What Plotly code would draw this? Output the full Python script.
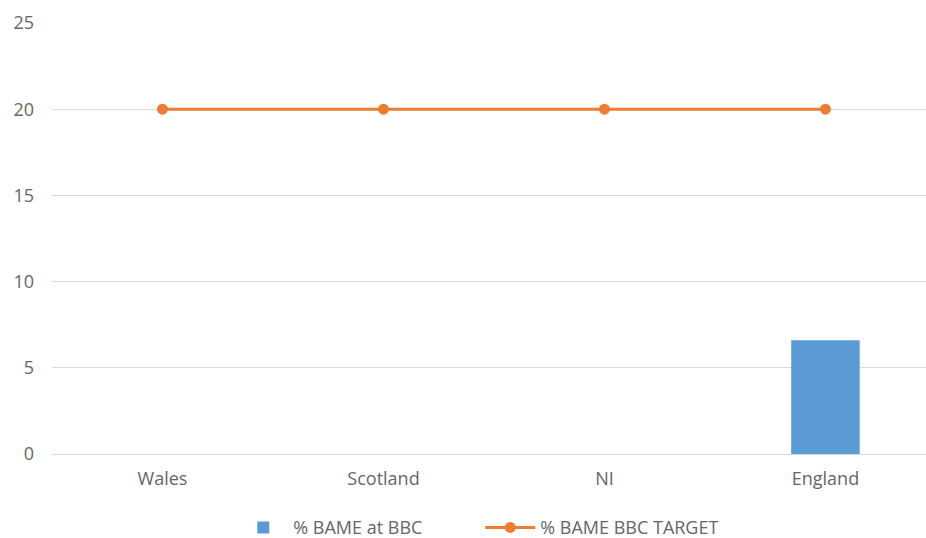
import plotly.graph_objects as go

# Regions and series
regions = ["Wales", "Scotland", "NI", "England"]
bame_at_bbc = [0, 0, 0, 6.6]
bame_target = [20, 20, 20, 20]
y_ticks = [0, 5, 10, 15, 20, 25]

text_color = "#666666"
font_family = "'Open Sans', sans-serif"

fig = go.Figure()

fig.add_trace(go.Bar(
    x=regions,
    y=bame_at_bbc,
    name="% BAME at BBC",
    marker=dict(color="#5B9BD5", line=dict(width=0)),
))

fig.add_trace(go.Scatter(
    x=regions,
    y=bame_target,
    name="% BAME BBC TARGET",
    mode="lines+markers",
    line=dict(color="#ED7D31", width=3),
    marker=dict(color="#ED7D31", size=11),
))

fig.update_layout(
    width=926,
    height=538,
    margin=dict(l=52, r=0, t=23, b=84, autoexpand=False),
    paper_bgcolor="white",
    plot_bgcolor="white",
    bargap=0.69,
    font=dict(family=font_family, size=18, color=text_color),
    showlegend=True,
    legend=dict(
        orientation="h",
        x=0.49,
        xanchor="center",
        y=-0.171,
        yanchor="middle",
        font=dict(size=18, color=text_color),
        itemwidth=50,
        entrywidth=182,
        entrywidthmode="pixels",
        traceorder="normal",
    ),
    xaxis=dict(
        type="category",
        range=[-0.5, 3.455],
        showgrid=False,
        showline=False,
        zeroline=False,
        ticks="",
        ticklabelstandoff=12,
        tickfont=dict(size=18, color=text_color),
    ),
    yaxis=dict(
        range=[0, 25],
        tickvals=y_ticks,
        showgrid=True,
        gridcolor="#d9d9d9",
        gridwidth=1,
        zeroline=True,
        zerolinecolor="#d9d9d9",
        zerolinewidth=1,
        showline=False,
        ticks="",
        ticklabelstandoff=17,
        tickfont=dict(size=18, color=text_color),
    ),
)

fig.write_html("out.html")
